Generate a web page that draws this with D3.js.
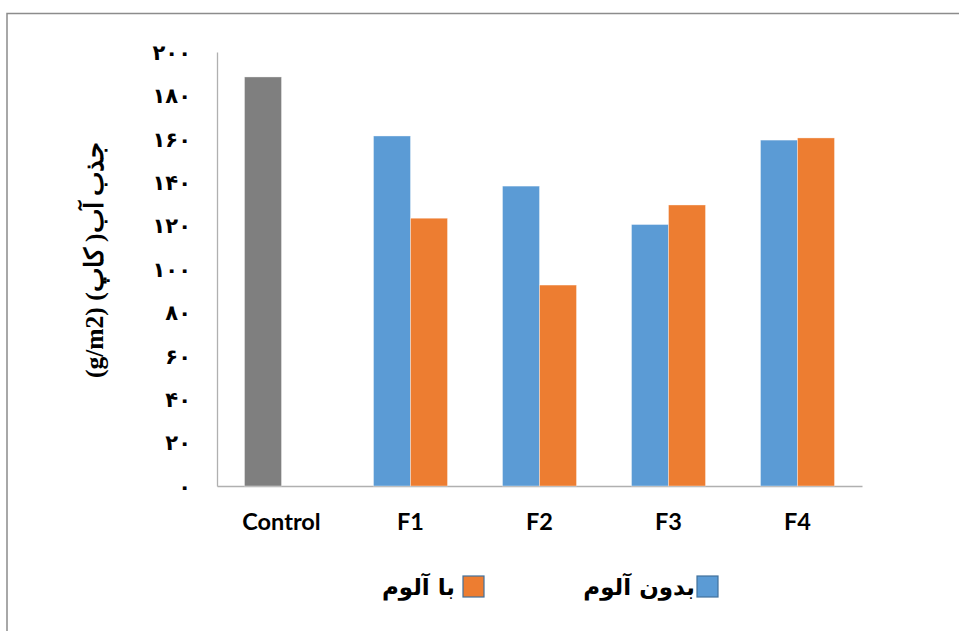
<!DOCTYPE html>
<html>
<head>
<meta charset="utf-8">
<script src="https://cdn.jsdelivr.net/npm/d3@7"></script>
<style>
  html, body { margin: 0; padding: 0; background: #fff; }
  svg { display: block; }
</style>
</head>
<body>
<script>
// Water absorption (Cobb) by formulation, with and without alum
const categories = ["Control", "F1", "F2", "F3", "F4"];
const withoutAlum = [188.5, 161.3, 138.2, 120.5, 159.4];   // بدون آلوم (Control drawn in grey)
const withAlum    = [null, 123.4, 92.6, 129.5, 160.4];     // با آلوم
const yTicks = [0, 20, 40, 60, 80, 100, 120, 140, 160, 180, 200];
const seriesNames = ["بدون آلوم", "با آلوم"];
const yTitle = "جذب آب( کاپ) (g/m2)";

const W = 959, H = 631;
const colors = { blue: "#5B9BD5", orange: "#ED7D31", grey: "#7F7F7F" };

const svg = d3.select("body").append("svg").attr("width", W).attr("height", H);

// outer frame
svg.append("path")
  .attr("d", `M7,${H + 2} L7,13.5 L${W + 2},13.5`)
  .attr("fill", "none").attr("stroke", "#8c8c8c").attr("stroke-width", 1.5);

const plot = { left: 217, right: 862, top: 52, bottom: 486 };

const x = d3.scaleBand().domain(categories).range([plot.left, plot.right]).paddingInner(0).paddingOuter(0);
const y = d3.scaleLinear().domain([0, 200]).range([plot.bottom, plot.top]);
const barW = 37;

const toPersian = n => String(n).replace(/\d/g, d => "۰۱۲۳۴۵۶۷۸۹"[d]);

// y axis
const yAxis = d3.axisLeft(y).tickValues(yTicks).tickSize(0).tickPadding(0).tickFormat(toPersian);
const gy = svg.append("g").attr("transform", `translate(${plot.left},0)`).call(yAxis);
gy.select(".domain").attr("stroke", "#b0b0b0").attr("stroke-width", 1.3);
gy.selectAll("text")
  .attr("x", -26).attr("dy", "0.35em")
  .attr("fill", "#000")
  .style("font-family", "'DejaVu Sans', sans-serif")
  .style("font-weight", "bold")
  .style("font-size", "21px");

// x axis
const xAxis = d3.axisBottom(x).tickSize(0).tickPadding(0);
const gx = svg.append("g").attr("transform", `translate(0,${plot.bottom})`).call(xAxis);
gx.select(".domain").attr("stroke", "#b0b0b0").attr("stroke-width", 1.3);
gx.selectAll("text")
  .attr("y", 36).attr("dy", "0.35em")
  .attr("fill", "#000")
  .style("font-family", "Lato, 'Open Sans', sans-serif")
  .style("font-weight", "bold")
  .style("font-size", "23.5px");

// bars
const bars = [];
categories.forEach((c, i) => {
  const cx = x(c) + x.bandwidth() / 2;
  if (withoutAlum[i] != null)
    bars.push({ c, v: withoutAlum[i], x0: cx - barW, fill: i === 0 ? colors.grey : colors.blue });
  if (withAlum[i] != null)
    bars.push({ c, v: withAlum[i], x0: cx, fill: colors.orange });
});
svg.append("g").selectAll("rect").data(bars).join("rect")
  .attr("x", d => d.x0)
  .attr("y", d => y(d.v))
  .attr("width", barW)
  .attr("height", d => y(0) - y(d.v))
  .attr("fill", d => d.fill)
  .attr("stroke", "#ffffff").attr("stroke-opacity", 0.45).attr("stroke-width", 0.8);

// y axis title (right-to-left paragraph)
svg.append("text")
  .attr("transform", `translate(103,260) rotate(-90)`)
  .attr("text-anchor", "middle")
  .attr("direction", "rtl")
  .style("unicode-bidi", "plaintext")
  .style("font-family", "'Liberation Serif', 'DejaVu Serif', serif")
  .style("font-weight", "bold")
  .style("font-size", "25.5px")
  .text(yTitle);

// legend
const legend = [
  { name: seriesNames[0], fill: colors.blue, sx: 697, tx: 695 },
  { name: seriesNames[1], fill: colors.orange, sx: 463, tx: 455 }
];
const lg = svg.append("g").selectAll("g").data(legend).join("g");
lg.append("rect")
  .attr("x", d => d.sx).attr("y", 576)
  .attr("width", 21).attr("height", 21)
  .attr("fill", d => d.fill)
  .attr("stroke", "#41719C").attr("stroke-width", 1.2);
lg.append("text")
  .attr("x", d => d.tx).attr("y", 587).attr("dy", "0.35em")
  .attr("text-anchor", "end")
  .style("font-family", "'DejaVu Sans', sans-serif")
  .style("font-weight", "bold")
  .style("font-size", "23px")
  .text(d => d.name);
</script>
</body>
</html>
